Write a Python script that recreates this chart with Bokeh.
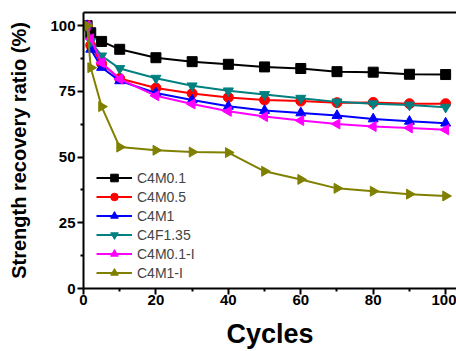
import math
from bokeh.plotting import figure
from bokeh.models import Range1d, LinearAxis, FixedTicker, Legend
from bokeh.embed import file_html
from bokeh.resources import INLINE

cycles = [1, 2, 5, 10, 20, 30, 40, 50, 60, 70, 80, 90, 100]
c4m01 = [100, 97.3, 94.0, 91.0, 87.8, 86.3, 85.3, 84.3, 83.7, 82.5, 82.3, 81.5, 81.4]
c4m05 = [100, 92.5, 85.5, 79.9, 76.3, 74.2, 72.7, 71.7, 71.3, 70.7, 70.8, 70.3, 70.3]
c4m1 = [100, 91.0, 84.1, 79.0, 74.4, 71.7, 69.3, 67.7, 66.8, 65.8, 64.5, 63.6, 62.9]
c4f135 = [100, 94.0, 88.5, 83.7, 80.0, 77.1, 75.2, 73.8, 72.4, 71.0, 70.3, 69.8, 69.0]
c4m01i = [100, 95.0, 85.9, 79.7, 73.3, 70.2, 67.4, 65.4, 63.9, 62.6, 61.6, 61.1, 60.4]
c4m1i = [100, 84.0, 69.2, 53.8, 52.6, 51.9, 51.7, 44.6, 41.5, 38.1, 37.0, 35.9, 35.2]

labels = ["C4M0.1", "C4M0.5", "C4M1", "C4F1.35", "C4M0.1-I", "C4M1-I"]
series = [c4m01, c4m05, c4m1, c4f135, c4m01i, c4m1i]
colors = ["#000000", "#FF0000", "#0000FF", "#008080", "#FF00FF", "#808000"]
markers = [("square", 0), ("circle", 0), ("triangle", 0), ("inverted_triangle", 0),
           ("triangle", math.pi / 2), ("triangle", -math.pi / 2)]
x_ticks = [0, 20, 40, 60, 80, 100]
y_ticks = [0, 25, 50, 75, 100]

FONT = "Liberation Sans"

p = figure(width=456, height=351, output_backend="svg", toolbar_location=None,
           x_range=Range1d(0, 103), y_range=Range1d(0, 105),
           min_border_left=83, min_border_right=0, min_border_top=12, min_border_bottom=10)
p.grid.visible = False
p.outline_line_alpha = 0
p.background_fill_color = "white"
p.border_fill_color = "white"

for ax, ticks in ((p.xaxis[0], x_ticks), (p.yaxis[0], y_ticks)):
    ax.ticker = FixedTicker(ticks=ticks, minor_ticks=[t + (ticks[1] - ticks[0]) / 2 for t in ticks[:-1]])
    ax.axis_line_width = 2
    ax.major_tick_line_width = 2
    ax.minor_tick_line_width = 2
    ax.major_tick_out = 6
    ax.major_tick_in = 0
    ax.minor_tick_out = 3
    ax.minor_tick_in = 0
    ax.major_label_text_font = FONT
    ax.major_label_text_font_style = "bold"
    ax.major_label_text_font_size = "15px"
    ax.major_label_text_color = "black"
    ax.axis_label_text_font = FONT
    ax.axis_label_text_font_style = "bold"
    ax.axis_label_text_color = "black"

p.xaxis.axis_label = "Cycles"
p.xaxis.axis_label_text_font_size = "27px"
p.xaxis.axis_label_standoff = 11
p.xaxis.major_label_standoff = 0
p.yaxis.axis_label = "Strength recovery ratio (%)"
p.yaxis.axis_label_text_font_size = "20px"
p.yaxis.axis_label_standoff = 17
p.yaxis.major_label_standoff = 2

top = LinearAxis(ticker=FixedTicker(ticks=[]), major_label_text_font_size="0px",
                 major_tick_out=0, minor_tick_out=0, axis_line_width=2)
p.add_layout(top, "above")

items = []
for lab, ys, col, (mk, ang) in zip(labels, series, colors, markers):
    r1 = p.line(cycles, ys, line_color=col, line_width=2)
    r2 = p.scatter(cycles, ys, marker=mk, angle=ang, size=10, fill_color=col, line_color=col)
    items.append((lab, [r1, r2]))

legend = Legend(items=items, location=(13, 6), padding=0, spacing=0, margin=0,
                glyph_width=36, glyph_height=19, label_height=19, label_standoff=5,
                border_line_alpha=0, background_fill_alpha=0,
                label_text_font=FONT, label_text_font_size="14px")
p.add_layout(legend, "center")

open("out.html", "w").write(file_html(p, INLINE))
